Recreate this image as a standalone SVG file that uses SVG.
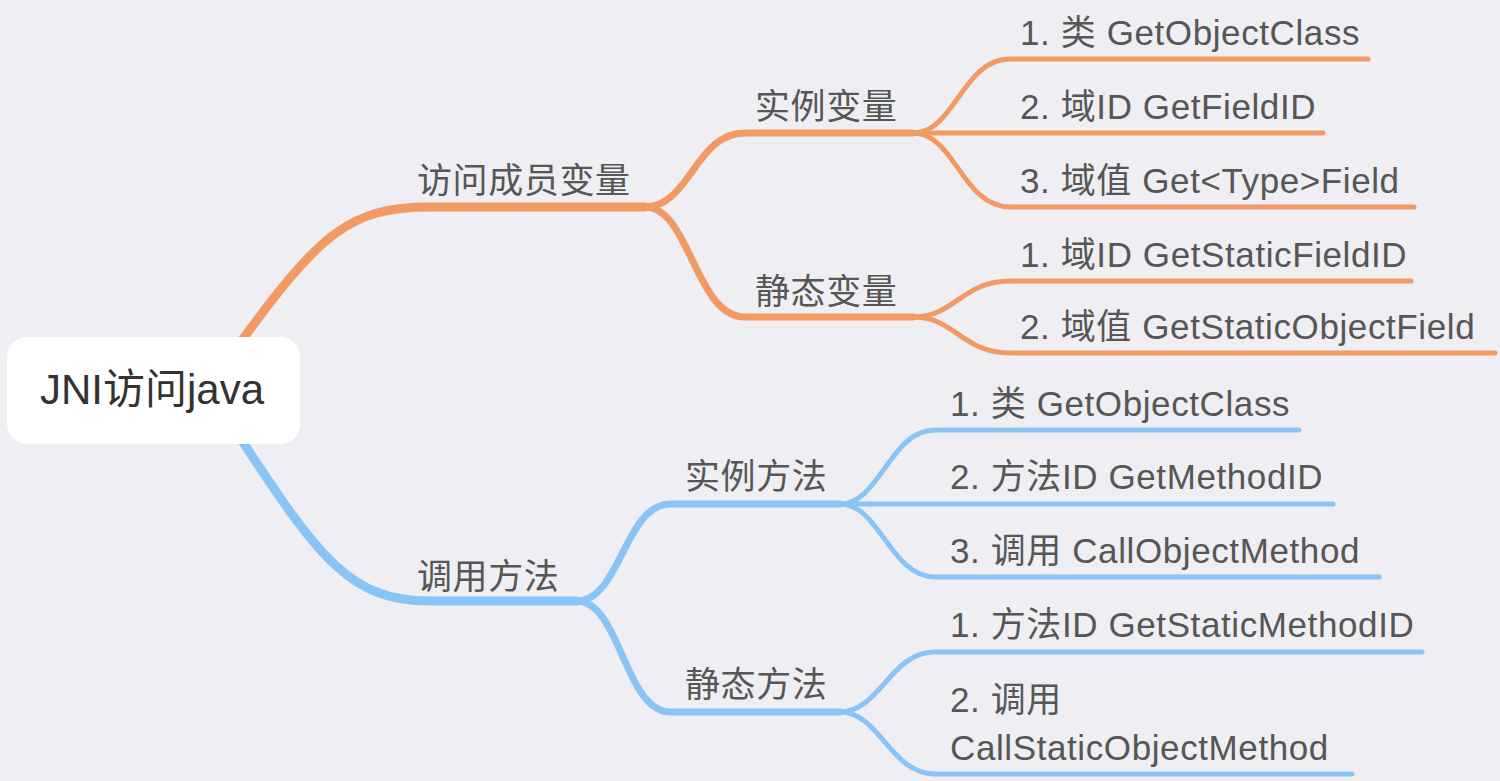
<svg xmlns="http://www.w3.org/2000/svg" width="1500" height="781" viewBox="0 0 1500 781">
<style>
.t{font-family:"Liberation Sans","Noto Sans CJK SC",sans-serif;font-size:35px;fill:#565656;letter-spacing:0.6px}
.root{font-family:"Liberation Sans","Noto Sans CJK SC",sans-serif;font-size:42px;fill:#333}
.c{fill:none;stroke-linecap:round;stroke-linejoin:round}
.o{stroke:#F29A63}
.b{stroke:#88C5F6}
.l1{stroke-width:9}
.l2{stroke-width:7}
.l3{stroke-width:5}
</style>
<rect width="1500" height="781" fill="#EEEEF3"/>
<g id="connectors">
  <path class="c o l1" d="M235,350 C320,232 350,207 430,207 H645"/>
  <path class="c b l1" d="M235,430 C320,560 350,601 430,601 H577"/>
  <path class="c o l2" d="M645,207 C690,207 695,133 745,133 H913"/>
  <path class="c o l2" d="M645,207 C690,207 695,317 745,317 H913"/>
  <path class="c o l3" d="M913,133 C955,133 962,59 1010,59 H1368"/>
  <path class="c o l3" d="M913,133 H1323"/>
  <path class="c o l3" d="M913,133 C955,133 962,207 1010,207 H1414"/>
  <path class="c o l3" d="M913,317 C955,317 962,281 1010,281 H1411"/>
  <path class="c o l3" d="M913,317 C955,317 962,353 1010,353 H1495"/>
  <path class="c b l2" d="M577,601 C620,601 625,504 670,504 H840"/>
  <path class="c b l2" d="M577,601 C620,601 625,712 670,712 H840"/>
  <path class="c b l3" d="M840,504 C880,504 890,430 935,430 H1299"/>
  <path class="c b l3" d="M840,504 H1333"/>
  <path class="c b l3" d="M840,504 C880,504 890,577 935,577 H1379"/>
  <path class="c b l3" d="M840,712 C880,712 890,652 935,652 H1422"/>
  <path class="c b l3" d="M840,712 C880,712 890,774 935,774 H1352"/>
</g>
<g id="root">
  <rect x="7" y="337" width="293" height="107" rx="20" fill="#FFFFFF"/>
  <text class="root" x="40" y="404">JNI访问java</text>
</g>
<g id="n-field"><text class="t" x="417" y="193">访问成员变量</text></g>
<g id="n-field-inst"><text class="t" x="755" y="119">实例变量</text></g>
<g id="n-field-inst-1"><text class="t" x="1020" y="45">1. 类 GetObjectClass</text></g>
<g id="n-field-inst-2"><text class="t" x="1020" y="119">2. 域ID GetFieldID</text></g>
<g id="n-field-inst-3"><text class="t" x="1020" y="193">3. 域值 Get&lt;Type&gt;Field</text></g>
<g id="n-field-static"><text class="t" x="755" y="304">静态变量</text></g>
<g id="n-field-static-1"><text class="t" x="1020" y="267">1. 域ID GetStaticFieldID</text></g>
<g id="n-field-static-2"><text class="t" x="1020" y="339">2. 域值 GetStaticObjectField</text></g>
<g id="n-method"><text class="t" x="417" y="589">调用方法</text></g>
<g id="n-method-inst"><text class="t" x="685" y="489">实例方法</text></g>
<g id="n-method-inst-1"><text class="t" x="950" y="416">1. 类 GetObjectClass</text></g>
<g id="n-method-inst-2"><text class="t" x="950" y="489">2. 方法ID GetMethodID</text></g>
<g id="n-method-inst-3"><text class="t" x="950" y="563">3. 调用 CallObjectMethod</text></g>
<g id="n-method-static"><text class="t" x="685" y="697">静态方法</text></g>
<g id="n-method-static-1"><text class="t" x="950" y="637">1. 方法ID GetStaticMethodID</text></g>
<g id="n-method-static-2"><text class="t" x="950" y="712">2. 调用<tspan x="950" y="760">CallStaticObjectMethod</tspan></text></g>
</svg>
